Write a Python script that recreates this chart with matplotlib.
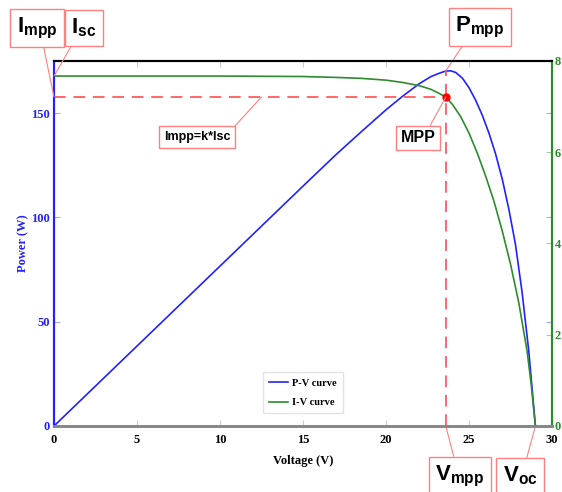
import matplotlib
matplotlib.use('Agg')
import matplotlib.pyplot as plt

# I-V curve (current, right axis)
v_iv = [0, 5, 10, 15, 17, 18.5, 20, 21, 22, 22.7, 23.2, 23.6, 24.0, 24.5, 25.0,
        25.5, 26.0, 26.5, 27.0, 27.5, 28.0, 28.5, 28.75, 29.0]
i_iv = [7.67, 7.67, 7.67, 7.66, 7.64, 7.62, 7.58, 7.53, 7.46, 7.38, 7.29, 7.21,
        7.05, 6.78, 6.42, 5.98, 5.48, 4.93, 4.28, 3.55, 2.70, 1.64, 0.90, 0.0]

# P-V curve (power, left axis)
v_pv = [0, 15, 17, 18.5, 20, 21, 22, 22.7, 23.2, 23.6, 23.9, 24.2, 24.6, 25.0,
        25.4, 25.8, 26.2, 26.6, 27.0, 27.4, 27.8, 28.2, 28.6, 29.0]
p_pv = [0, 115, 130.2, 141, 151.6, 158.1, 164.1, 167.5, 169.1, 170.2, 170.3, 169.5,
        166.8, 162.2, 156.2, 149, 140.5, 130.5, 118.5, 104, 87, 64, 36, 0]

v_mpp = 23.6
i_mpp = 7.21
p_mpp = 170.2
v_oc = 29.0
i_sc = 7.67
v_label = 12.5

blue = '#2222ff'
green = '#2e8b2e'
red = '#ff4040'
pink = '#ff8080'

serif = ['Liberation Serif', 'DejaVu Serif']
sans = ['Liberation Sans Narrow', 'Liberation Sans', 'DejaVu Sans']

fig = plt.figure(figsize=(5.62, 4.92), dpi=100)
ax = fig.add_axes([54 / 562, 1 - 426 / 492, 498 / 562, 365 / 492])
ax2 = ax.twinx()

l1, = ax.plot(v_pv, p_pv, color=blue, lw=1.2, label='P-V curve')
l2, = ax2.plot(v_iv, i_iv, color=green, lw=1.2, label='I-V curve')

# MPP guide lines
ax.plot([v_mpp, v_mpp], [0, p_mpp], color=red, lw=1.4, ls=(0, (6, 4)), alpha=0.8)
ax2.plot([0, v_mpp], [i_mpp, i_mpp], color=red, lw=1.4, ls=(0, (6, 4)), alpha=0.8)
ax2.plot([v_mpp], [i_mpp], 'o', color='red', ms=5)

ax.set_xlim(0, 30)
ax.set_ylim(0, 175)
ax2.set_ylim(0, 8)
ax.set_xticks([0, 5, 10, 15, 20, 25, 30])
ax.set_yticks([0, 50, 100, 150])
ax2.set_yticks([0, 2, 4, 6, 8])

for a in (ax, ax2):
    a.spines['top'].set_color('black')
    a.spines['top'].set_linewidth(1.5)
    a.spines['bottom'].set_color('#888888')
    a.spines['bottom'].set_linewidth(2)
    a.spines['left'].set_color(blue)
    a.spines['left'].set_linewidth(1.5)
    a.spines['right'].set_color(green)
    a.spines['right'].set_linewidth(1.5)

ax.tick_params(axis='x', direction='in', top=True, length=4, color='#cccccc',
               labelsize=9, pad=6)
ax.tick_params(axis='y', direction='in', right=True, length=4, color='#aaaaff',
               labelcolor=blue, labelsize=9, pad=3)
ax2.tick_params(axis='y', direction='in', length=4, color='#aacaaa',
                labelcolor=green, labelsize=9, pad=2)
for lab in ax.get_xticklabels() + ax.get_yticklabels() + ax2.get_yticklabels():
    lab.set_family(serif)
    lab.set_fontweight('bold')

ax.set_xlabel('Voltage (V)', family=serif, fontweight='bold', fontsize=9, labelpad=6)
ax.set_ylabel('Power (W)', family=serif, fontweight='bold', fontsize=9, color=blue)
ax.yaxis.set_label_coords(-0.05, 0.5)

leg = ax2.legend(handles=[l1, l2], loc='lower center', bbox_to_anchor=(0.5, 0.02),
                 prop={'family': serif, 'weight': 'bold', 'size': 7.5},
                 fancybox=False, edgecolor='#dddddd', handlelength=1.8,
                 handletextpad=0.4, borderpad=0.6, labelspacing=1.0)


def label(text, xy, axes, center, relpos, size, pad):
    axes.annotate(text, xy=xy, xycoords='data',
                  xytext=(center[0], 492 - center[1]), textcoords='figure pixels',
                  ha='center', va='center', fontsize=size, fontweight='bold',
                  family=sans, annotation_clip=False,
                  bbox=dict(boxstyle='square,pad=%s' % pad, fc='white', ec=pink, lw=1),
                  arrowprops=dict(arrowstyle='-', color=pink, lw=0.8,
                                  relpos=relpos, shrinkA=0, shrinkB=0))


label(r'$\mathregular{I_{mpp}}$', (0, i_mpp), ax2, (37, 28), (0.63, 0), 16, 0.3)
label(r'$\mathregular{I_{sc}}$', (0, i_sc), ax2, (84, 28), (0.15, 0), 16, 0.3)
label(r'$\mathregular{P_{mpp}}$', (v_mpp, p_mpp), ax, (480, 27), (0.23, 0), 16, 0.3)
label('MPP', (v_mpp, i_mpp), ax2, (418, 138), (0.77, 1), 11.5, 0.3)
label('Impp=k*Isc', (v_label, i_mpp), ax2, (197, 137), (1, 1), 9, 0.4)
label(r'$\mathregular{V_{mpp}}$', (v_mpp, 0), ax, (460, 476), (0.41, 1), 16, 0.3)
label(r'$\mathregular{V_{oc}}$', (v_oc, 0), ax, (520, 476), (0.64, 1), 16, 0.3)

fig.savefig('out.png', dpi=100)
